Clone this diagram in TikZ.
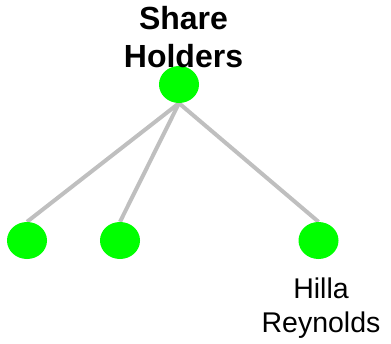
\documentclass[tikz,border=0pt]{standalone}
\usepackage{fontspec}
\setmainfont{Liberation Sans}
\usetikzlibrary{%
  shapes.geometric,%
  backgrounds%
}
\tikzset{member/.style = {ellipse, fill = green!100, minimum width = 40pt,
	    minimum height = 37pt, inner sep = 0pt},%
		link/.style={draw=black!25, line width=4pt}}

\begin{document}
\begin{tikzpicture}[x=1pt,y=-1pt]
          \useasboundingbox (0,0) rectangle (391,343);
          \node[member] (holders) at (179,84.5) {};
          \node[anchor=base,align=center,font=\fontsize{32}{38}\selectfont\bfseries]
          (holderslabel) at (183.5,67) {Share\\Holders};
          \node[member] (a) at (27,240.5) {};
          \node[member] (b) at (120,240.5) {};
          \node[member] (c) at (318.5,240.5) {};
          \node[anchor=base,align=center,font=\fontsize{28.5}{34}\selectfont]
          (clabel) at (321,332) {Hilla\\Reynolds};
          \begin{scope}[on background layer]
            \draw[link] (holders.south) -- (a.north);
            \draw[link] (holders.south) -- (b.north);
            \draw[link] (holders.south) -- (c.north);
          \end{scope}
        \end{tikzpicture}
\end{document}
